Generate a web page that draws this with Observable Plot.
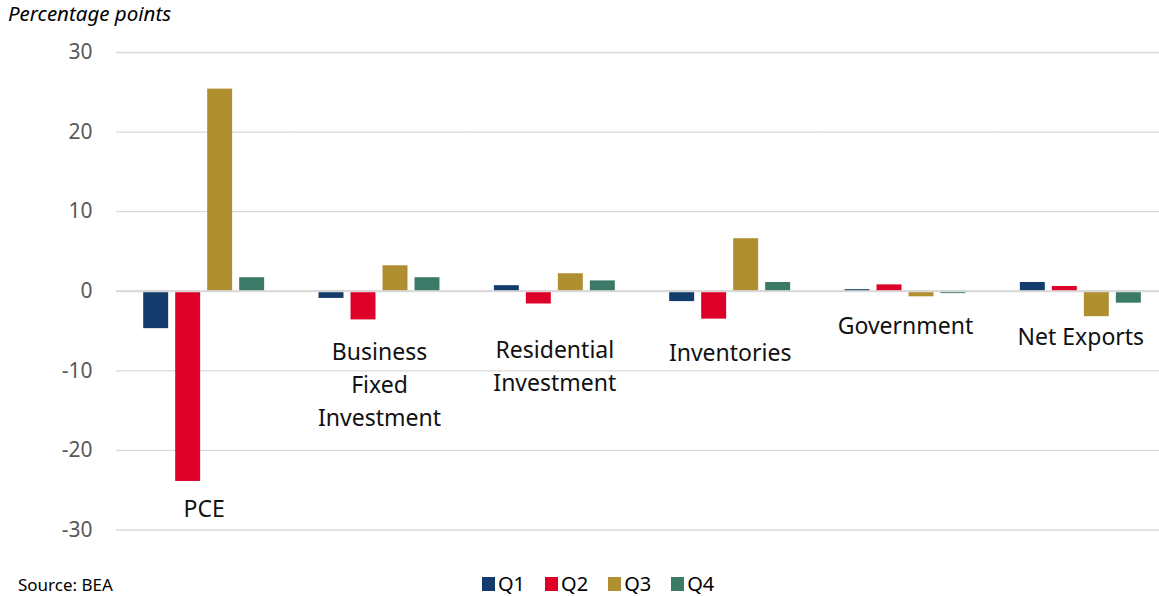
<!DOCTYPE html>
<html>
<head>
<meta charset="utf-8">
<script src="https://cdn.jsdelivr.net/npm/d3@7"></script>
<script src="https://cdn.jsdelivr.net/npm/@observablehq/plot@0.6"></script>
<style>
  body { margin: 0; background: #fff; }
  #wrap { position: relative; width: 1159px; height: 596px; overflow: hidden; font-family: "Noto Sans", sans-serif; }
  #title { position: absolute; left: 8px; top: 0; font-size: 20.5px; font-style: italic; line-height: 26px; color: #000; }
  #chart { position: absolute; left: 0; top: 0; }
  #legend { position: absolute; left: 482px; top: 571px; display: flex; gap: 20px; font-size: 20px; line-height: 26px; color: #000; }
  .item { display: flex; align-items: center; gap: 3px; }
  .sw { width: 13px; height: 14px; display: inline-block; }
  #source { position: absolute; left: 18px; top: 574px; font-size: 17px; line-height: 22px; color: #000; }
</style>
</head>
<body>
<div id="wrap">
  <div id="chart"></div>
  <div id="title">Percentage points</div>
  <div id="legend"></div>
  <div id="source">Source: BEA</div>
</div>
<script>
const categories = ["PCE", "Business Fixed Investment", "Residential Investment", "Inventories", "Government", "Net Exports"];
const categoryLabels = ["PCE", "Business\nFixed\nInvestment", "Residential\nInvestment", "Inventories", "Government", "Net Exports"];
const quarters = ["Q1", "Q2", "Q3", "Q4"];
const q1 = [-4.7, -0.9, 0.7, -1.3, 0.2, 1.1];
const q2 = [-23.9, -3.6, -1.6, -3.5, 0.8, 0.6];
const q3 = [25.4, 3.2, 2.2, 6.6, -0.7, -3.2];
const q4 = [1.7, 1.7, 1.3, 1.1, -0.3, -1.5];
const labelAnchorY = [-27.1, -11.5, -9.1, -7.4, -4.1, -5.4];
const yTicks = [-30, -20, -10, 0, 10, 20, 30];
const colors = ["#133b6c", "#dd0029", "#b08f31", "#3c7a68"];

const series = [q1, q2, q3, q4];
const rows = [];
categories.forEach((c, i) => {
  quarters.forEach((q, j) => rows.push({category: c, quarter: q, value: series[j][i]}));
});
const labels = categories.map((c, i) => ({category: c, label: categoryLabels[i], y: labelAnchorY[i]}));

const chart = Plot.plot({
  width: 1159,
  height: 560,
  marginLeft: 116,
  marginRight: 11,
  marginTop: 52,
  marginBottom: 30.5,
  style: {fontFamily: "Noto Sans, sans-serif", fontSize: "21px", background: "transparent", overflow: "visible"},
  fx: {domain: categories, range: [116, 1168], paddingInner: 0, paddingOuter: 0, round: false, axis: null},
  x: {domain: quarters, paddingInner: 0.22, paddingOuter: 0.85, round: false, axis: null},
  y: {domain: [-30, 30], ticks: yTicks, tickSize: 0, tickPadding: 24, tickFormat: d => String(d), label: null},
  color: {domain: quarters, range: colors},
  marks: [
    Plot.ruleY(yTicks, {stroke: "#d9d9d9", strokeWidth: 1.3}),
    Plot.barY(rows, {fx: "category", x: "quarter", y: "value", fill: "quarter"}),
    Plot.ruleY([0], {stroke: "#d9d9d9", strokeWidth: 1.8}),
    Plot.text(labels, {fx: "category", y: "y", text: "label", fontSize: 23, lineHeight: 1.43, fill: "#111", lineAnchor: "middle"}),
    Plot.axisY({ticks: yTicks, tickSize: 0, tickPadding: 24, tickFormat: d => String(d), fill: "#595959", label: null, fontSize: 21})
  ]
});
document.getElementById("chart").appendChild(chart);

const legend = document.getElementById("legend");
quarters.forEach((q, i) => {
  const item = document.createElement("span");
  item.className = "item";
  const sw = document.createElement("span");
  sw.className = "sw";
  sw.style.background = colors[i];
  const t = document.createElement("span");
  t.textContent = q;
  item.appendChild(sw);
  item.appendChild(t);
  legend.appendChild(item);
});
</script>
</body>
</html>
